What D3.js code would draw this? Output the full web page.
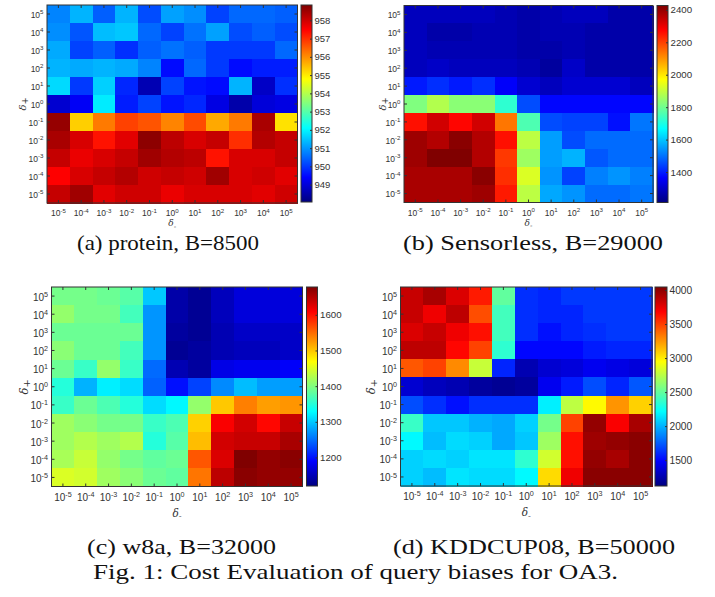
<!DOCTYPE html>
<html><head><meta charset="utf-8">
<script src="https://cdn.jsdelivr.net/npm/d3@7"></script>
<style>body{margin:0;background:#fff} svg{display:block}</style>
</head><body>
<svg id="chart" width="715" height="597"></svg>
<script>
// delta_- exponents (columns, left to right)
const deltaMinusExp = ["-5","-4","-3","-2","-1","0","1","2","3","4","5"];
// delta_+ exponents (rows, top to bottom)
const deltaPlusExp = ["5","4","3","2","1","0","-1","-2","-3","-4","-5"];

const proteinValues = [
[950.8,951.3,950.4,951.3,950.2,951.1,950.9,950.1,950.5,950.5,950.4],
[950.9,950.3,951.4,951.5,950.5,950.1,950.6,951.1,950.2,950.4,950.2],
[951.2,950.1,950.4,949.9,950.4,950.6,950.4,950.0,950.0,950.0,950.5],
[951.3,951.2,951.3,951.2,950.8,949.5,950.5,950.0,949.5,949.7,949.7],
[951.7,950.0,951.6,949.8,948.6,950.1,949.6,949.5,951.3,948.8,949.9],
[948.9,949.3,951.9,949.7,950.1,949.6,949.8,949.1,948.5,949.0,949.1],
[958.6,955.3,956.2,956.8,956.6,956.1,956.7,955.7,956.2,958.4,955.1],
[958.4,957.9,957.3,957.8,958.7,958.2,957.9,958.1,957.0,958.3,958.1],
[958.1,957.7,957.9,958.1,958.5,958.3,958.2,957.3,957.9,957.9,958.1],
[957.5,957.9,958.1,958.3,958.0,958.1,958.0,958.5,957.9,958.0,957.8],
[958.1,958.5,957.8,958.0,958.0,957.7,957.9,957.9,957.9,957.8,958.0]
];
const sensorlessValues = [
[1285,1285,1285,1285,1273,1261,1273,1285,1285,1261,1261],
[1285,1261,1261,1273,1273,1261,1273,1273,1261,1261,1261],
[1285,1273,1273,1273,1273,1261,1261,1273,1261,1261,1261],
[1285,1297,1285,1285,1285,1273,1248,1297,1261,1261,1261],
[1394,1419,1394,1419,1358,1309,1285,1309,1309,1309,1285],
[1820,1880,1832,1832,1722,1455,1370,1370,1370,1370,1370],
[2257,2330,2269,2330,2135,1759,1455,1443,1443,1382,1504],
[2391,2366,2415,2366,2257,1892,1552,1455,1491,1491,1491],
[2391,2427,2427,2366,2208,1856,1552,1577,1467,1491,1491],
[2378,2378,2378,2415,2220,1929,1540,1443,1516,1540,1516],
[2378,2378,2378,2391,2245,1892,1564,1540,1491,1491,1504]
];
const w8aValues = [
[1393,1393,1388,1377,1299,1142,1131,1153,1170,1170,1170],
[1410,1393,1393,1366,1271,1142,1131,1153,1170,1170,1170],
[1388,1388,1388,1388,1271,1137,1131,1148,1159,1159,1159],
[1405,1388,1388,1366,1271,1131,1137,1148,1153,1153,1159],
[1388,1360,1410,1360,1248,1148,1137,1176,1181,1181,1187],
[1349,1287,1321,1310,1243,1198,1226,1265,1293,1276,1276],
[1360,1388,1371,1349,1310,1326,1410,1499,1539,1522,1527],
[1416,1405,1393,1393,1360,1371,1494,1611,1633,1605,1639],
[1416,1427,1416,1427,1349,1377,1505,1633,1639,1639,1656],
[1421,1438,1410,1393,1382,1388,1561,1628,1678,1667,1672],
[1449,1444,1416,1405,1388,1382,1544,1645,1672,1667,1667]
];
const kddValues = [
[3839,3927,3781,3605,2494,1617,1588,1646,1646,1646,1646],
[3839,3722,3869,3459,2407,1617,1588,1588,1646,1646,1646],
[3781,3839,3722,3635,2407,1617,1529,1588,1617,1646,1646],
[3869,3869,3664,3488,2348,1500,1500,1500,1559,1588,1588],
[3430,3488,3284,2787,1588,1266,1354,1383,1442,1412,1383],
[1354,1295,1266,1208,1178,1208,1442,1559,1705,1588,1734],
[1705,1617,1529,1617,1617,1617,2173,2757,2962,3255,3079],
[2377,2056,2056,1997,1968,2085,2553,3488,3986,3693,3927],
[2202,2026,2114,2085,1968,2056,2670,3635,3956,3986,4015],
[2085,2114,2085,2143,2143,2348,2816,3635,3986,3927,4015],
[2085,2026,2143,2114,2114,2202,3050,3722,4015,4015,4015]
];

// colour ranges (colorbar limits) and colorbar ticks
const proteinRange = [948.05, 958.84];
const sensorlessRange = [1212, 2427];
const w8aRange = [1120, 1678];
const kddRange = [1120, 4044];
const proteinTicks = [949,950,951,952,953,954,955,956,957,958];
const sensorlessTicks = [1400,1600,1800,2000,2200,2400];
const w8aTicks = [1200,1300,1400,1500,1600];
const kddTicks = [1500,2000,2500,3000,3500,4000];

const subCaptions = ["(a) protein, B=8500","(b) Sensorless, B=29000","(c) w8a, B=32000","(d) KDDCUP08, B=50000"];
const figCaption = "Fig. 1: Cost Evaluation of query biases for OA3.";

function jet(t){
  t = Math.max(0, Math.min(1, t));
  const c = v => Math.round(255*Math.max(0, Math.min(1, v)));
  return `rgb(${c(1.5-Math.abs(4*t-3))},${c(1.5-Math.abs(4*t-2))},${c(1.5-Math.abs(4*t-1))})`;
}

const svg = d3.select("#chart");
const defs = svg.append("defs");
const AX = "#333333";

const panels = [
 {id:"a", values:proteinValues, range:proteinRange, ticks:proteinTicks, x0:47, x1:297.5, y0:5, y1:203,
  cb:[301,312,5,202], tf:8.5, cf:9.5, df:9, ylOff:25, xlOff:13, dOff:23},
 {id:"b", values:sensorlessValues, range:sensorlessRange, ticks:sensorlessTicks, x0:404, x1:653, y0:5.5, y1:202.5,
  cb:[657,668,5.5,202.5], tf:8.5, cf:9.7, df:9, ylOff:22, xlOff:13, dOff:23},
 {id:"c", values:w8aValues, range:w8aRange, ticks:w8aTicks, x0:51.5, x1:302.5, y0:287, y1:486.5,
  cb:[306.5,317.5,287,486], tf:10, cf:9.7, df:10.5, ylOff:28, xlOff:14, dOff:30},
 {id:"d", values:kddValues, range:kddRange, ticks:kddTicks, x0:400.5, x1:652, y0:287, y1:486,
  cb:[655,667,287,486], tf:10, cf:10.2, df:10.5, ylOff:30, xlOff:14, dOff:30}
];

function powLabel(sel, fs){
  sel.each(function(d){
    const t = d3.select(this);
    t.text("10");
    t.append("tspan").attr("font-size", (fs*0.72)+"px").attr("dy", "-0.55em").text(d);
  });
}

panels.forEach(p => {
  const g = svg.append("g");
  const x = d3.scaleBand().domain(deltaMinusExp).range([p.x0, p.x1]);
  const y = d3.scaleBand().domain(deltaPlusExp).range([p.y0, p.y1]);
  const color = d3.scaleSequential(jet).domain(p.range);

  const cells = [];
  p.values.forEach((row, i) => row.forEach((v, j) => cells.push({r:deltaPlusExp[i], c:deltaMinusExp[j], v})));
  g.append("g").selectAll("rect").data(cells).join("rect")
    .attr("x", d => x(d.c)).attr("y", d => y(d.r))
    .attr("width", x.bandwidth()+0.6).attr("height", y.bandwidth()+0.6)
    .attr("fill", d => color(d.v)).attr("shape-rendering","crispEdges");

  const font = "'Liberation Sans', Arial, sans-serif";
  // bottom axis
  const bx = g.append("g").attr("transform", `translate(0,${p.y1})`)
    .call(d3.axisBottom(x).tickSizeInner(-3).tickSizeOuter(0).tickPadding(p.xlOff - 0.71*p.tf));
  bx.select(".domain").remove();
  bx.selectAll(".tick line").attr("stroke", AX);
  bx.selectAll(".tick text").attr("font-family", font).attr("font-size", p.tf+"px").attr("fill", AX)
    .attr("dy", "0.71em").call(powLabel, p.tf);
  // top ticks
  const tx = g.append("g").attr("transform", `translate(0,${p.y0})`)
    .call(d3.axisTop(x).tickSizeInner(-3).tickSizeOuter(0).tickFormat(""));
  tx.select(".domain").remove(); tx.selectAll(".tick line").attr("stroke", AX);
  // left axis
  const ly = g.append("g").attr("transform", `translate(${p.x0},0)`)
    .call(d3.axisLeft(y).tickSizeInner(-3).tickSizeOuter(0).tickPadding(3.5));
  ly.select(".domain").remove();
  ly.selectAll(".tick line").attr("stroke", AX);
  ly.selectAll(".tick text").attr("font-family", font).attr("font-size", p.tf+"px").attr("fill", AX)
    .attr("dy", "0.45em").call(powLabel, p.tf);
  // right ticks
  const ry = g.append("g").attr("transform", `translate(${p.x1},0)`)
    .call(d3.axisRight(y).tickSizeInner(-3).tickSizeOuter(0).tickFormat(""));
  ry.select(".domain").remove(); ry.selectAll(".tick line").attr("stroke", AX);
  // frame
  g.append("rect").attr("x", p.x0).attr("y", p.y0).attr("width", p.x1-p.x0).attr("height", p.y1-p.y0)
    .attr("fill","none").attr("stroke", AX).attr("stroke-width", 1);

  // axis titles
  const xt = g.append("text").attr("x", (p.x0+p.x1)/2).attr("y", p.y1 + p.dOff)
    .attr("text-anchor","middle").attr("font-family", "'DejaVu Serif', serif").attr("font-size", p.df+"px").attr("fill", AX)
    .attr("font-style","italic");
  xt.append("tspan").text("δ");
  xt.append("tspan").attr("dy","0.35em").attr("font-size",(p.df*0.8)+"px").text("-");
  const yt = g.append("text").attr("transform", `translate(${p.x0 - p.ylOff},${(p.y0+p.y1)/2}) rotate(-90)`)
    .attr("text-anchor","middle").attr("font-family", "'DejaVu Serif', serif").attr("font-size", (p.df+1)+"px").attr("fill", AX)
    .attr("font-style","italic").attr("dy","0.35em");
  yt.append("tspan").text("δ");
  yt.append("tspan").attr("dy","0.25em").attr("font-size",(p.df*0.95)+"px").attr("font-style","normal").text("+");

  // colorbar
  const [cx0, cx1, cy0, cy1] = p.cb;
  const grad = defs.append("linearGradient").attr("id","grad"+p.id)
    .attr("x1","0").attr("y1","1").attr("x2","0").attr("y2","0");
  d3.range(0, 65).forEach(i => grad.append("stop").attr("offset", (i/64)).attr("stop-color", jet(i/64)));
  g.append("rect").attr("x", cx0).attr("y", cy0).attr("width", cx1-cx0).attr("height", cy1-cy0)
    .attr("fill", `url(#grad${p.id})`).attr("stroke", AX).attr("stroke-width", 1);
  const cs = d3.scaleLinear().domain(p.range).range([cy1, cy0]);
  const cax = g.append("g").attr("transform", `translate(${cx1},0)`)
    .call(d3.axisRight(cs).tickValues(p.ticks).tickSizeInner(-2).tickSizeOuter(0).tickPadding(2.5).tickFormat(d3.format("d")));
  cax.select(".domain").remove();
  cax.selectAll(".tick line").attr("stroke", AX);
  cax.selectAll(".tick text").attr("font-family", font).attr("font-size", p.cf+"px").attr("fill", AX);
});

// captions
const capFont = "'Liberation Serif', 'Times New Roman', serif";
const capSpec = [
  {x:77, y:250, w:182, fs:21},
  {x:403, y:250, w:260, fs:22},
  {x:87, y:554, w:189, fs:22},
  {x:393, y:554, w:282, fs:22}
];
subCaptions.forEach((s, i) => {
  svg.append("text").attr("x", capSpec[i].x).attr("y", capSpec[i].y)
    .attr("font-family", capFont).attr("font-size", capSpec[i].fs+"px").attr("fill", "#111")
    .attr("textLength", capSpec[i].w).attr("lengthAdjust", "spacingAndGlyphs").text(s);
});
svg.append("text").attr("x", 93).attr("y", 579)
  .attr("font-family", capFont).attr("font-size", "22px").attr("fill", "#111")
  .attr("textLength", 525).attr("lengthAdjust", "spacingAndGlyphs").text(figCaption);
</script>
</body></html>
